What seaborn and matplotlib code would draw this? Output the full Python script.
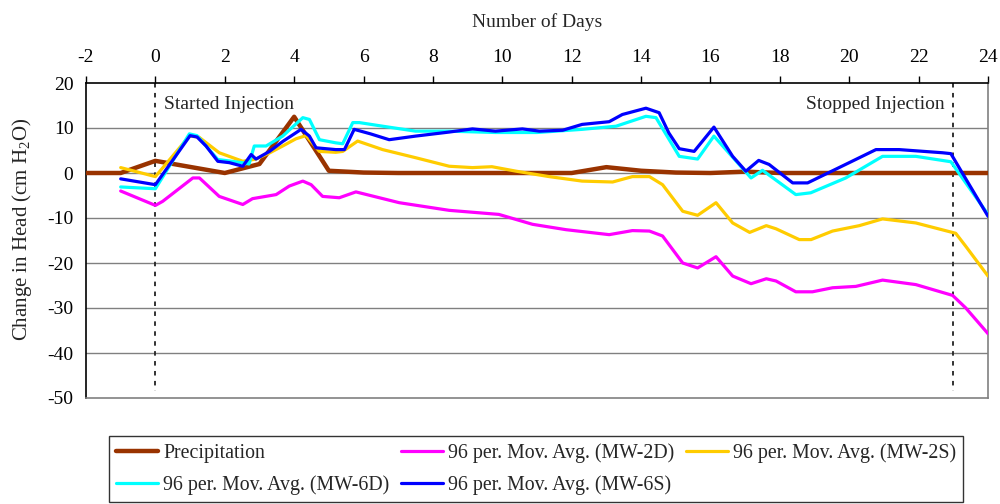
import matplotlib
matplotlib.use("Agg")
import matplotlib.pyplot as plt
import seaborn as sns
import numpy as np

sns.set_theme(style="white")
plt.rcParams['font.family'] = ['Liberation Serif', 'DejaVu Serif']
plt.rcParams['mathtext.fontset'] = 'custom'
plt.rcParams['mathtext.rm'] = 'Liberation Serif'
plt.rcParams['mathtext.it'] = 'Liberation Serif:italic'
plt.rcParams['axes.unicode_minus'] = False

# ---------------- data ----------------
precip_days = list(range(-2, 25))
precip_vals = [0, 0, 2.7, 1.35, 0, 2, 12.5, 0.5, 0.1, 0, 0, 0, 0, 0, 0, 1.3, 0.5,
               0.1, 0, 0.3, 0, 0, 0, 0, 0, 0, 0]

mw2d_days = [-1.0, 0.0, 0.21, 1.08, 1.27, 1.84, 2.52, 2.8, 3.48, 3.86, 4.25, 4.49, 4.82,
             5.3, 5.78, 7.03, 8.47, 9.9, 10.87, 11.84, 13.08, 13.75, 14.24, 14.62, 15.2,
             15.63, 16.16, 16.64, 17.17, 17.61, 17.89, 18.46, 18.94, 19.52, 20.19, 20.96,
             21.92, 22.98, 23.36, 24.0]
mw2d_vals = [-4.0, -7.2, -6.3, -1.1, -1.1, -5.2, -7.0, -5.7, -4.8, -2.9, -1.8, -2.6, -5.2,
             -5.5, -4.2, -6.6, -8.3, -9.2, -11.4, -12.6, -13.7, -12.8, -12.9, -14.0, -20.0,
             -21.1, -18.6, -22.9, -24.6, -23.5, -24.0, -26.4, -26.4, -25.5, -25.2, -23.8,
             -24.8, -27.2, -30.0, -35.7]

mw2s_days = [-1.0, 0.0, 0.98, 1.25, 1.84, 2.52, 2.9, 3.3, 3.67, 4.05, 4.34, 4.73, 5.2, 5.4,
             5.83, 6.55, 7.5, 8.47, 9.14, 9.7, 10.4, 11.35, 12.3, 13.18, 13.75, 14.24, 14.62,
             15.2, 15.63, 16.16, 16.64, 17.13, 17.61, 17.89, 18.56, 18.9, 19.52, 20.29,
             20.96, 21.92, 23.07, 23.36, 24.0]
mw2s_vals = [1.2, -0.8, 8.2, 8.0, 4.5, 2.6, 3.1, 4.5, 6.0, 7.6, 8.3, 4.8, 4.6, 4.8,
             7.1, 5.2, 3.4, 1.5, 1.2, 1.4, 0.4, -0.8, -1.8, -2.0, -0.8, -0.8, -2.6,
             -8.5, -9.4, -6.6, -11.1, -13.2, -11.7, -12.4, -14.8, -14.8, -12.9, -11.7,
             -10.2, -11.1, -13.4, -16.3, -22.9]

mw6d_days = [-1.0, 0.0, 0.98, 1.2, 1.8, 2.5, 2.7, 2.85, 3.19, 3.67, 4.25, 4.44, 4.73, 5.2,
             5.4, 5.69, 5.88, 6.55, 7.5, 8.47, 9.8, 11.0, 12.3, 13.28, 14.14, 14.43, 15.1,
             15.63, 16.1, 17.17, 17.5, 18.46, 18.89, 19.9, 20.96, 21.92, 22.93, 24.0]
mw6d_vals = [-3.1, -3.5, 8.7, 8.3, 3.0, 2.3, 2.0, 6.0, 6.0, 8.2, 12.3, 11.9, 7.4, 6.7,
             6.5, 11.2, 11.2, 10.4, 9.3, 9.3, 9.0, 9.0, 9.7, 10.4, 12.6, 12.3, 3.7,
             3.1, 8.2, -1.1, 0.6, -4.8, -4.4, -1.1, 3.7, 3.7, 2.5, -9.2]

mw6s_days = [-1.0, 0.0, 1.0, 1.2, 1.46, 1.8, 2.13, 2.52, 2.76, 2.9, 3.29, 3.67, 4.2, 4.44,
             4.63, 5.2, 5.45, 5.73, 6.2, 6.74, 7.5, 8.47, 9.14, 9.8, 10.58, 11.07, 11.74,
             12.3, 13.08, 13.46, 14.14, 14.52, 14.8, 15.1, 15.53, 16.1, 16.64, 17.02, 17.39,
             17.69, 18.37, 18.8, 20.0, 20.77, 21.44, 22.69, 22.93, 23.26, 24.0]
mw6s_vals = [-1.3, -2.6, 8.3, 8.0, 6.0, 2.6, 2.3, 1.5, 4.1, 3.1, 4.8, 7.0, 9.7, 8.2,
             5.6, 5.2, 5.2, 9.7, 8.7, 7.4, 8.2, 9.1, 9.8, 9.3, 9.8, 9.3, 9.5,
             10.8, 11.4, 13.0, 14.4, 13.4, 8.9, 5.4, 4.8, 10.2, 3.7, 0.4, 2.8,
             1.9, -2.2, -2.2, 2.3, 5.2, 5.2, 4.5, 4.3, 0.0, -9.6]

x_ticks = list(range(-2, 25, 2))
y_ticks = list(range(-50, 21, 10))

# ---------------- figure ----------------
fig = plt.figure(figsize=(10, 5.04), dpi=100)
ax = fig.add_axes([0.086, 1 - 398 / 504, 0.902, (398 - 83) / 504])

grid_c = '#808080'
for yv in y_ticks[1:-1]:
    ax.axhline(yv, color=grid_c, lw=1.0, zorder=0)

for xv in [0, 23]:
    ax.plot([xv, xv], [20, -48.5], color='#222222', lw=1.3, ls=(0, (2.5, 3)), zorder=1)

series = [
    ("Precipitation", precip_days, precip_vals, '#993300', 3.2),
    ("96 per. Mov. Avg. (MW-2D)", mw2d_days, mw2d_vals, '#FF00FF', 2.3),
    ("96 per. Mov. Avg. (MW-2S)", mw2s_days, mw2s_vals, '#FFCC00', 2.3),
    ("96 per. Mov. Avg. (MW-6D)", mw6d_days, mw6d_vals, '#00FFFF', 2.3),
    ("96 per. Mov. Avg. (MW-6S)", mw6s_days, mw6s_vals, '#0000FF', 2.3),
]
handles = {}
for name, xs, ys, col, lw in series:
    sns.lineplot(x=xs, y=ys, ax=ax, color=col, linewidth=lw, sort=False,
                 estimator=None, label=name, zorder=3)
    handles[name] = ax.get_lines()[-1]
ax.get_legend().remove()

ax.set_xlim(-2, 24)
ax.set_ylim(-50, 20)
ax.set_xticks(x_ticks)
ax.set_yticks(y_ticks)
ax.xaxis.tick_top()
ax.xaxis.set_label_position('top')
ax.tick_params(axis='both', direction='out', length=5, width=1, color='black',
               labelsize=14, labelcolor='black')
ax.tick_params(axis='x', pad=7)
ax.tick_params(axis='y', pad=4)
for s in ['top', 'left']:
    ax.spines[s].set_color('black')
    ax.spines[s].set_linewidth(1.2)
for s in ['right', 'bottom']:
    ax.spines[s].set_color(grid_c)
    ax.spines[s].set_linewidth(1.2)

ax.set_xlabel("Number of Days", fontsize=14, labelpad=16)
ax.set_ylabel("Change in Head (cm H$_2$O)", fontsize=15)
ax.yaxis.set_label_coords(-0.058, 0.535)

ax.text(0.25, 15.2, "Started Injection", fontsize=14, ha='left', va='center')
ax.text(22.75, 15.2, "Stopped Injection", fontsize=14, ha='right', va='center')

order = ["Precipitation", "96 per. Mov. Avg. (MW-6D)", "96 per. Mov. Avg. (MW-2D)",
         "96 per. Mov. Avg. (MW-6S)", "96 per. Mov. Avg. (MW-2S)"]
leg = fig.legend([handles[k] for k in order], order, ncol=3, loc='center',
                 bbox_to_anchor=(0.536, 0.0694), fontsize=14.3, frameon=True,
                 fancybox=False, edgecolor='black', handlelength=2.1,
                 handletextpad=0.25, columnspacing=0.6, borderpad=0.35,
                 labelspacing=0.62, borderaxespad=0)
leg.get_frame().set_linewidth(1.0)

fig.savefig("out.png", dpi=100)
